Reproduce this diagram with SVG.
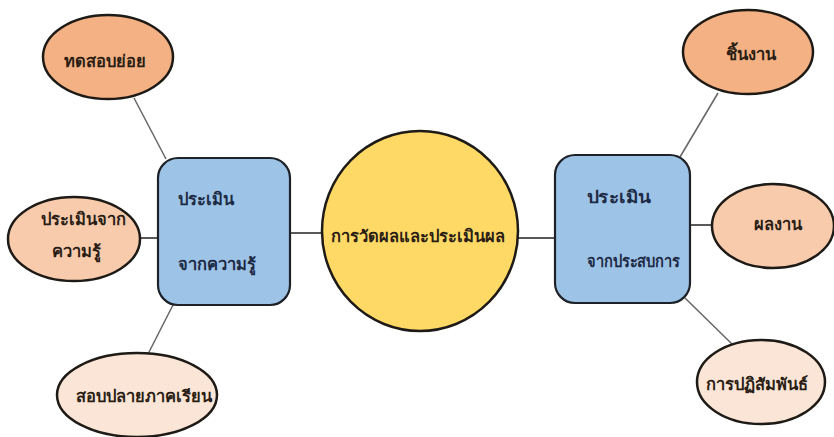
<svg xmlns="http://www.w3.org/2000/svg" width="834" height="437" viewBox="0 0 834 437">
<style>
.t{font-family:"Noto Sans","DejaVu Sans",sans-serif;font-weight:bold;font-size:16.5px;fill:#2a1d14}
.bt{font-family:"Noto Sans","DejaVu Sans",sans-serif;font-weight:bold;font-size:16.5px;fill:#1c2a44}
.el{stroke:#1e1a16;stroke-width:2.5}
.bx{fill:#9dc3e6;stroke:#1e2228;stroke-width:2.2}
.c1{stroke:#666;stroke-width:1.5;fill:none}
.c2{stroke:#222;stroke-width:1.5;fill:none}
</style>
<rect width="834" height="437" fill="#fff"/>
<g id="connectors">
<line class="c1" x1="134" y1="98" x2="166" y2="159"/>
<line class="c2" x1="140" y1="238" x2="158" y2="238"/>
<line class="c1" x1="148" y1="354" x2="173" y2="305"/>
<line class="c2" x1="290" y1="233" x2="323" y2="233"/>
<line class="c2" x1="518" y1="238" x2="555" y2="238"/>
<line class="c1" x1="680" y1="157" x2="718" y2="93"/>
<line class="c2" x1="690" y1="225" x2="712" y2="225"/>
<line class="c1" x1="685" y1="298" x2="733" y2="345"/>
</g>
<g id="center">
<ellipse cx="420" cy="231" rx="98" ry="100" fill="#ffd966" class="el"/>
<text class="t" x="418" y="242" text-anchor="middle">การวัดผลและประเมินผล</text>
</g>
<g id="box-left">
<rect class="bx" x="158" y="158" width="132" height="147" rx="20"/>
<text class="bt" x="178" y="205">ประเมิน</text>
<text class="bt" x="178" y="270">จากความรู้</text>
</g>
<g id="box-right">
<rect class="bx" x="555" y="155" width="135" height="148" rx="20"/>
<text class="bt" x="587" y="203" textLength="64" lengthAdjust="spacingAndGlyphs">ประเมิน</text>
<text class="bt" x="587" y="267" textLength="93" lengthAdjust="spacingAndGlyphs">จากประสบการ</text>
</g>
<g id="n-test">
<ellipse cx="108" cy="57" rx="65" ry="42" fill="#f4b183" class="el"/>
<text class="t" x="105" y="67" text-anchor="middle">ทดสอบย่อย</text>
</g>
<g id="n-knowledge">
<ellipse cx="74" cy="239" rx="66" ry="42" fill="#f8cbad" class="el"/>
<text class="t" x="83" y="225" text-anchor="middle">ประเมินจาก</text>
<text class="t" x="76" y="257" text-anchor="middle">ความรู้</text>
</g>
<g id="n-final">
<ellipse cx="137" cy="395" rx="80" ry="42" fill="#fbe5d6" class="el"/>
<text class="t" x="144" y="402" text-anchor="middle">สอบปลายภาคเรียน</text>
</g>
<g id="n-piece">
<ellipse cx="748" cy="52" rx="65" ry="42" fill="#f4b183" class="el"/>
<text class="t" x="751" y="60" text-anchor="middle">ชิ้นงาน</text>
</g>
<g id="n-work">
<ellipse cx="773" cy="226" rx="61" ry="42" fill="#f8cbad" class="el"/>
<text class="t" x="778" y="230" text-anchor="middle">ผลงาน</text>
</g>
<g id="n-interact">
<ellipse cx="761" cy="382" rx="64" ry="42" fill="#fbe5d6" class="el"/>
<text class="t" x="757" y="390" text-anchor="middle">การปฏิสัมพันธ์</text>
</g>
</svg>
